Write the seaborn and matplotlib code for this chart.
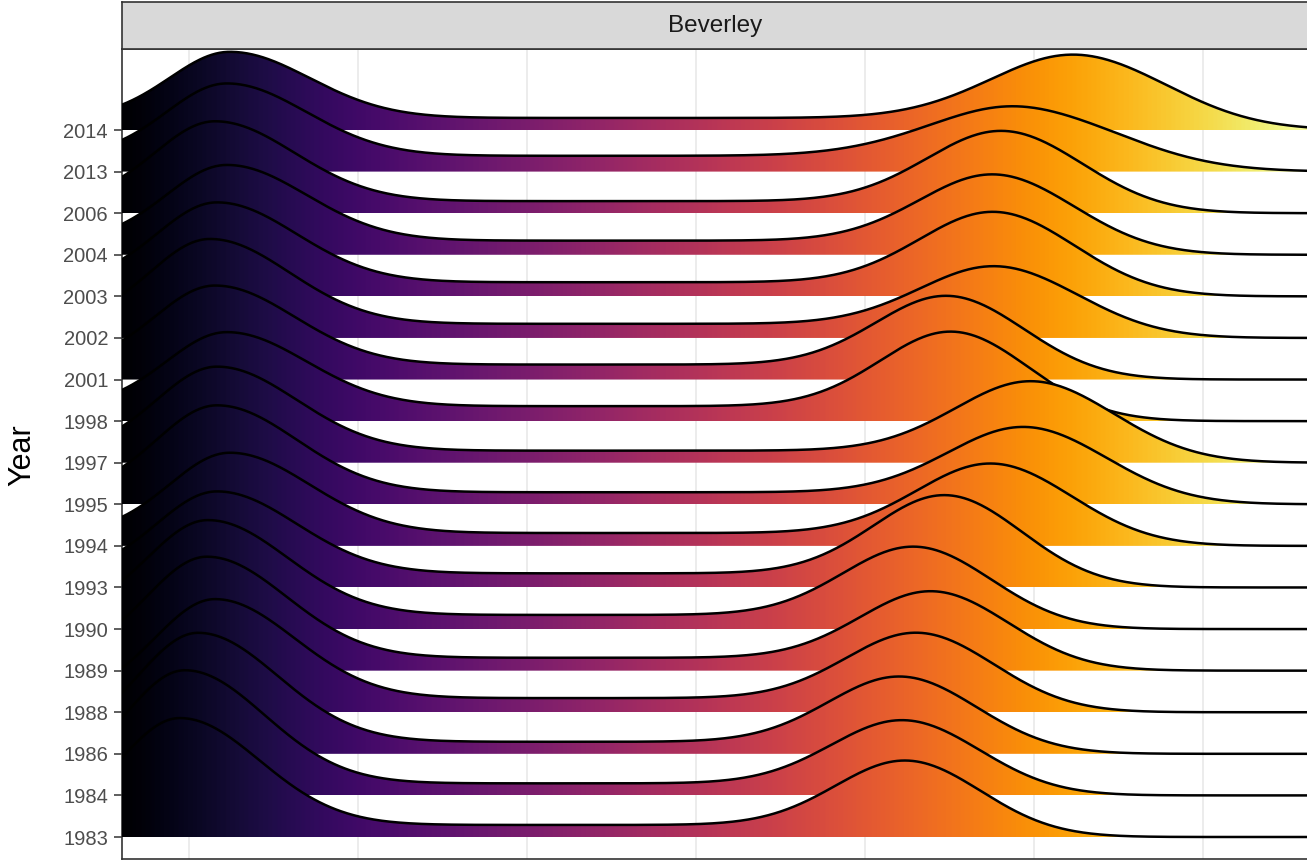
import numpy as np
import pandas as pd
import matplotlib
matplotlib.use("Agg")
import matplotlib.pyplot as plt
from matplotlib.patches import Polygon
import seaborn as sns

# --- Data (bottom row first) ---
years = ['1983', '1984', '1986', '1988', '1989', '1990', '1993', '1994', '1995',
         '1997', '1998', '2001', '2002', '2003', '2004', '2006', '2013', '2014']
# early mode: location and ridge height (row units)
early_peak = [-2.7, -1.2, 2.7, 7.7, 5.3, 5.6, 8.3, 12.1, 8.3,
              8.3, 11.2, 7.7, 6.2, 8.3, 11.2, 7.7, 11.2, 12.1]
early_height = [2.86, 3.01, 2.91, 2.72, 2.74, 2.62, 2.31, 2.24, 2.38,
                2.31, 2.14, 2.26, 2.38, 2.26, 2.16, 2.21, 2.12, 1.88]
# flat stretch between the modes
mid_height = [0.29, 0.29, 0.29, 0.34, 0.31, 0.34, 0.34, 0.31, 0.29,
              0.29, 0.36, 0.36, 0.34, 0.34, 0.34, 0.29, 0.38, 0.29]
# late mode
late_peak = [214.0, 213.3, 212.4, 217.7, 221.8, 216.8, 225.7, 239.6, 249.4,
             251.5, 227.8, 226.6, 241.4, 240.5, 240.5, 242.6, 249.4, 264.8]
late_height = [1.83, 1.80, 1.85, 1.90, 1.90, 1.97, 2.21, 1.97, 1.85,
               1.95, 2.14, 2.00, 1.71, 2.02, 1.92, 1.97, 1.54, 1.80]
late_spread = [21.5, 22, 22, 22, 22, 22, 22, 23, 23.5,
               23.5, 22, 22, 23.5, 23, 23, 23, 28, 26]

X_MIN, X_MAX = -19.8, 330.8
CMAX = 335
x = np.linspace(X_MIN, X_MAX, 900)


def ridge(i):
    lx, lh, mh = early_peak[i], early_height[i], mid_height[i]
    rx, rh, rs = late_peak[i], late_height[i], late_spread[i]
    sd = np.where(x < lx, 17.8, 23.5)
    early = (lh - mh) * np.exp(-0.5 * ((x - lx) / sd) ** 2)
    flat = mh / (1 + np.exp((x - rx) / 8.9))
    late = (rh - 0.5 * mh) * np.exp(-0.5 * ((x - rx) / rs) ** 2)
    return early + flat + late


sns.set_theme(style="white")
plt.rcParams['font.family'] = ['Liberation Sans', 'DejaVu Sans']

W, H = 1307, 860
fig = plt.figure(figsize=(W / 100, H / 100), dpi=100)
ax = fig.add_axes([122 / W, 1 / H, 1185 / W, 810 / H])

# vertical grid
for g in range(0, 350, 50):
    ax.axvline(g, color='#EBEBEB', lw=1.3, zorder=0)

cvals = ((x - X_MIN) / (CMAX - X_MIN))[None, :]
n = len(years)
for i in range(n - 1, -1, -1):
    base = i + 1
    f = ridge(i)
    z = 2 * (n - i) + 1
    top = base + f
    verts = np.column_stack([np.r_[X_MIN, x, X_MAX], np.r_[base, top, base]])
    poly = Polygon(verts, closed=True, facecolor='none', edgecolor='none', zorder=z)
    ax.add_patch(poly)
    im = ax.imshow(cvals, cmap='inferno', vmin=0, vmax=1, aspect='auto',
                   extent=(X_MIN, X_MAX, base, top.max() + 0.05),
                   origin='lower', interpolation='bilinear', zorder=z)
    im.set_clip_path(poly)
    line_df = pd.DataFrame({'x': x, 'y': top})
    sns.lineplot(data=line_df, x='x', y='y', color='black', lw=1.8,
                 estimator=None, sort=False, zorder=z + 0.5, ax=ax)

ax.set_xlim(X_MIN, X_MAX)
ax.set_ylim(0.471, 19.948)
ax.set_xticks([])
ax.set_yticks(range(1, n + 1))
ax.set_yticklabels(years)
ax.tick_params(axis='y', left=True, length=6, width=1.1, color='#333333',
               labelcolor='#4D4D4D', labelsize=14.5, pad=4)
ax.set_xlabel('')
ax.set_ylabel('')
for side in ['left', 'top', 'bottom']:
    ax.spines[side].set_color('#333333')
    ax.spines[side].set_linewidth(1.2)
ax.spines['right'].set_visible(False)

# facet strip
strip = fig.add_axes([122 / W, 811 / H, 1185 / W, 47 / H])
strip.set_facecolor('#D9D9D9')
strip.set_xticks([])
strip.set_yticks([])
for side in ['left', 'top', 'bottom']:
    strip.spines[side].set_color('#333333')
    strip.spines[side].set_linewidth(1.2)
strip.spines['right'].set_visible(False)
fig.text(715 / W, 1 - 26 / H, 'Beverley', ha='center', va='center',
         fontsize=17.5, color='#1A1A1A')

fig.text(22 / W, 1 - 455 / H, 'Year', rotation=90, ha='center', va='center',
         fontsize=22, color='black')

fig.savefig('out.png', dpi=100)
